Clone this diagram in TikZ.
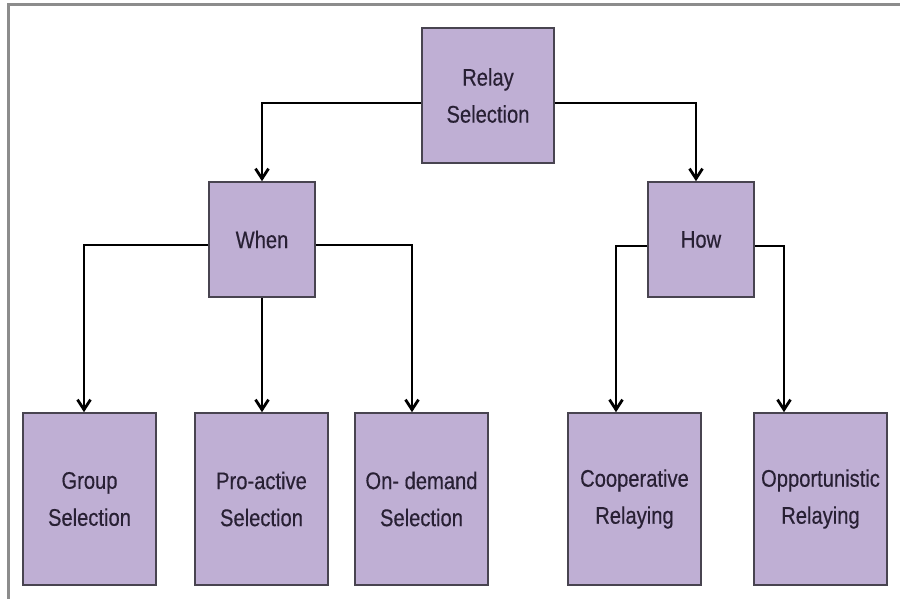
\documentclass[tikz,border=0pt]{standalone}
\usepackage{fontspec}
\setmainfont{Liberation Sans}[FakeStretch=0.84, FakeBold=0.4]
\usetikzlibrary{arrows.meta, positioning}
\definecolor{boxfill}{RGB}{191,175,212}
\definecolor{boxline}{RGB}{72,68,80}
\definecolor{boxtext}{RGB}{40,32,52}
\definecolor{framegray}{RGB}{140,140,140}

\begin{document}
\begin{tikzpicture}[x = 1pt, y = -1pt,
    box/.style = {draw = boxline, fill = boxfill, line width = 1.6pt, text = boxtext, align = center,
                  font = \fontsize{24}{37}\selectfont, inner sep = 0pt},
    topbox/.style = {box, minimum width = 132pt, minimum height = 135pt},
    midbox/.style = {box, minimum width = 106pt, minimum height = 115pt},
    leafbox/.style = {box, minimum width = 133pt, minimum height = 172pt},
    arr/.style = {line width = 2.8pt, -{Straight Barb[length = 10pt, width = 13pt]}}]
      \useasboundingbox (0,0) rectangle (900,599);
      % frame (top and left only)
      \draw[framegray, line width = 3pt] (8,599) -- (8,5) -- (900,5);

      \node[topbox] (relay) at (488,95.5) {Relay\\Selection};
      \node[midbox] (when) at (262,239.5) {When};
      \node[midbox] (how) at (701,239.5) {How};

      \node[leafbox] (group) at (89.5,499) {Group\\Selection};
      \node[leafbox] (proactive) at (261.5,499) {Pro-active\\Selection};
      \node[leafbox] (ondemand) at (421.5,499) {On- demand\\Selection};
      \node[leafbox] (coop) at (634.5,499) {Cooperative\\Relaying};
      \node[leafbox] (oppo) at (820.5,499) {Opportunistic\\Relaying};

      \draw[arr] ([yshift = -7.5pt]relay.west) -| (when.north);
      \draw[arr] ([yshift = -7.5pt]relay.east) -| ([xshift = -5pt]how.north);

      \draw[arr] ([yshift = -5.5pt]when.west) -| ([xshift = -5.5pt]group.north);
      \draw[arr] (when.south) -- (when.south |- proactive.north);
      \draw[arr] ([yshift = -5.5pt]when.east) -| ([xshift = -9.5pt]ondemand.north);

      \draw[arr] ([yshift = -6.5pt]how.west) -| ([xshift = -18.5pt]coop.north);
      \draw[arr] ([yshift = -6.5pt]how.east) -| ([xshift = -36.5pt]oppo.north);
    \end{tikzpicture}
\end{document}
